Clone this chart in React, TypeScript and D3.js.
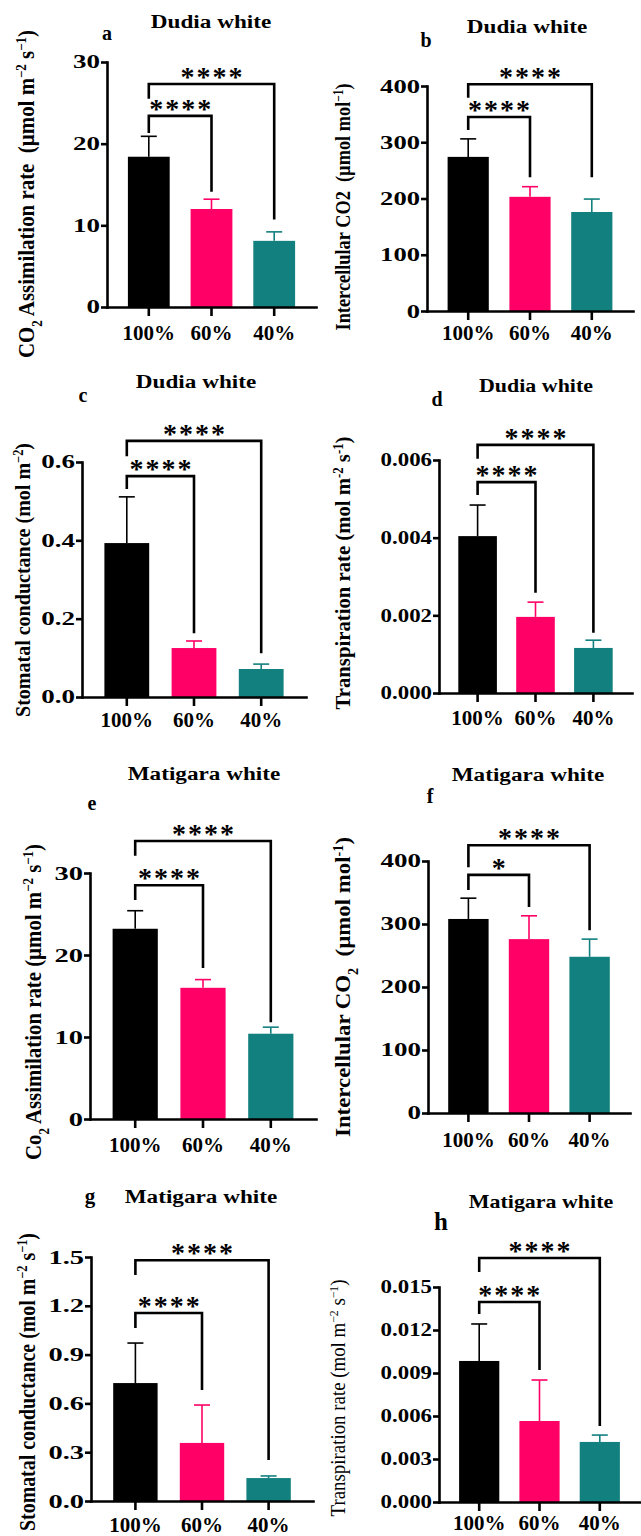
import React, { useEffect, useRef } from 'react';
import * as d3 from 'd3';

const categories = ['100%', '60%', '40%'];
const barColors = ['#000000', '#ff0066', '#12807e'];

// a - Dudia white, CO2 assimilation
const aMeans = [18.4, 12.0, 8.1];
const aErrors = [2.5, 1.2, 1.1];
const aTicks = [0, 10, 20, 30];
const aBrackets = [
  { from: 0, to: 1, level: 23.4, leftEnd: 21.3, rightEnd: 14.1, label: '****' },
  { from: 0, to: 2, level: 27.3, leftEnd: 25.5, rightEnd: 10.7, label: '****' },
];

// b - Dudia white, intercellular CO2
const bMeans = [274, 203, 176];
const bErrors = [32, 18, 23];
const bTicks = [0, 100, 200, 300, 400];
const bBrackets = [
  { from: 0, to: 1, level: 345, leftEnd: 322, rightEnd: 238, label: '****' },
  { from: 0, to: 2, level: 403, leftEnd: 379, rightEnd: 238, label: '****' },
];

// c - Dudia white, stomatal conductance
const cMeans = [0.393, 0.125, 0.0715];
const cErrors = [0.118, 0.018, 0.0125];
const cTicks = [0, 0.2, 0.4, 0.6];
const cBrackets = [
  { from: 0, to: 1, level: 0.564, leftEnd: 0.531, rightEnd: 0.163, label: '****' },
  { from: 0, to: 2, level: 0.654, leftEnd: 0.615, rightEnd: 0.112, label: '****' },
];

// d - Dudia white, transpiration
const dMeans = [0.00404, 0.00196, 0.00116];
const dErrors = [0.0008, 0.00038, 0.0002];
const dTicks = [0, 0.002, 0.004, 0.006];
const dBrackets = [
  { from: 0, to: 1, level: 0.00543, leftEnd: 0.0051, rightEnd: 0.00258, label: '****' },
  { from: 0, to: 2, level: 0.00639, leftEnd: 0.00603, rightEnd: 0.00155, label: '****' },
];

// e - Matigara white, CO2 assimilation
const eMeans = [23.2, 16.0, 10.4];
const eErrors = [2.2, 1.0, 0.8];
const eTicks = [0, 10, 20, 30];
const eBrackets = [
  { from: 0, to: 1, level: 28.5, leftEnd: 26.7, rightEnd: 18.4, label: '****' },
  { from: 0, to: 2, level: 33.9, leftEnd: 32.1, rightEnd: 11.8, label: '****' },
];

// f - Matigara white, intercellular CO2
const fMeans = [308, 276, 248];
const fErrors = [33, 37, 28];
const fTicks = [0, 100, 200, 300, 400];
const fBrackets = [
  { from: 0, to: 1, level: 378, leftEnd: 354, rightEnd: 327, label: '*' },
  { from: 0, to: 2, level: 425, leftEnd: 390, rightEnd: 290, label: '****' },
];

// g - Matigara white, stomatal conductance
const gMeans = [0.725, 0.357, 0.141];
const gErrors = [0.246, 0.233, 0.013];
const gTicks = [0, 0.3, 0.6, 0.9, 1.2, 1.5];
const gBrackets = [
  { from: 0, to: 1, level: 1.156, leftEnd: 1.063, rightEnd: 0.682, label: '****' },
  { from: 0, to: 2, level: 1.48, leftEnd: 1.389, rightEnd: 0.252, label: '****' },
];

// h - Matigara white, transpiration
const hMeans = [0.00984, 0.00565, 0.00419];
const hErrors = [0.00258, 0.00286, 0.00048];
const hTicks = [0, 0.003, 0.006, 0.009, 0.012, 0.015];
const hBrackets = [
  { from: 0, to: 1, level: 0.01395, leftEnd: 0.01312, rightEnd: 0.00921, label: '****' },
  { from: 0, to: 2, level: 0.01702, leftEnd: 0.01605, rightEnd: 0.0053, label: '****' },
];

const FONT = '"Liberation Serif", "Times New Roman", Times, serif';

const panels = [
  {
    letter: 'a', title: 'Dudia white', means: aMeans, errors: aErrors, ticks: aTicks, fmt: 'd', brackets: aBrackets,
    label: [['CO', ''], ['2', 'sub'], [' Assimilation rate  (µmol m', ''], ['−2', 'sup'], [' s', ''], ['−1', 'sup'], [')', '']],
    L: { axisX: 107, axisEnd: 316, yTop: 62, yZero: 307, titleX: 211, titleY: 28, letterX: 107, letterY: 40, letterSize: 20,
      catY: 340, labelX: 26, labelY: 194, labelLen: 328, labelSize: 23, labelWeight: 'bold', tickFont: 18, tickSx: 1.5, titleSize: 19 },
  },
  {
    letter: 'b', title: 'Dudia white', means: bMeans, errors: bErrors, ticks: bTicks, fmt: 'd', brackets: bBrackets,
    label: [['Intercellular CO2  (µmol mol', ''], ['−1', 'sup'], [')', '']],
    L: { axisX: 427, axisEnd: 633, yTop: 86, yZero: 311, titleX: 527, titleY: 33, letterX: 426, letterY: 47, letterSize: 20,
      catY: 340, labelX: 342, labelY: 207, labelLen: 247, labelSize: 22, labelWeight: 'bold', tickFont: 19, tickSx: 1.4, titleSize: 19 },
  },
  {
    letter: 'c', title: 'Dudia white', means: cMeans, errors: cErrors, ticks: cTicks, fmt: '.1f', brackets: cBrackets,
    label: [['Stomatal conductance (mol m', ''], ['−2', 'sup'], [')', '']],
    L: { axisX: 82, axisEnd: 306, yTop: 462, yZero: 697, titleX: 196, titleY: 388, letterX: 83, letterY: 402, letterSize: 20,
      catY: 727, labelX: 22, labelY: 580, labelLen: 274, labelSize: 22, labelWeight: 'bold', tickFont: 18, tickSx: 1.5, titleSize: 19 },
  },
  {
    letter: 'd', title: 'Dudia white', means: dMeans, errors: dErrors, ticks: dTicks, fmt: '.3f', brackets: dBrackets,
    label: [['Transpiration rate (mol m', ''], ['-2', 'sup'], [' s', ''], ['-1', 'sup'], [')', '']],
    L: { axisX: 439, axisEnd: 632, yTop: 460, yZero: 693, titleX: 536, titleY: 392, letterX: 437, letterY: 406, letterSize: 20,
      catY: 725, labelX: 342, labelY: 573, labelLen: 273, labelSize: 22, labelWeight: 'bold', tickFont: 18, tickSx: 1.27, titleSize: 18 },
  },
  {
    letter: 'e', title: 'Matigara white', means: eMeans, errors: eErrors, ticks: eTicks, fmt: 'd', brackets: eBrackets,
    label: [['Co', ''], ['2', 'sub'], [' Assimilation rate (µmol m', ''], ['−2', 'sup'], [' s', ''], ['−1', 'sup'], [')', '']],
    L: { axisX: 90, axisEnd: 316, yTop: 873, yZero: 1119, titleX: 204, titleY: 780, letterX: 92, letterY: 810, letterSize: 20,
      catY: 1152, labelX: 33, labelY: 1002, labelLen: 316, labelSize: 24, labelWeight: 'bold', tickFont: 19, tickSx: 1.5, titleSize: 19 },
  },
  {
    letter: 'f', title: 'Matigara white', means: fMeans, errors: fErrors, ticks: fTicks, fmt: 'd', brackets: fBrackets,
    label: [['Intercellular CO', ''], ['2', 'sub'], ['  (µmol mol', ''], ['-1', 'sup'], [')', '']],
    L: { axisX: 428, axisEnd: 630, yTop: 861, yZero: 1113, titleX: 528, titleY: 781, letterX: 430, letterY: 803, letterSize: 20,
      catY: 1147, labelX: 342, labelY: 987, labelLen: 300, labelSize: 22, labelWeight: 'bold', tickFont: 18, tickSx: 1.5, titleSize: 19 },
  },
  {
    letter: 'g', title: 'Matigara white', means: gMeans, errors: gErrors, ticks: gTicks, fmt: '.1f', brackets: gBrackets,
    label: [['Stomatal conductance (mol m', ''], ['−2', 'sup'], [' s', ''], ['−1', 'sup'], [')', '']],
    L: { axisX: 91, axisEnd: 313, yTop: 1257, yZero: 1501, titleX: 201, titleY: 1203, letterX: 90, letterY: 1203, letterSize: 21,
      catY: 1532, labelX: 27, labelY: 1382, labelLen: 298, labelSize: 23, labelWeight: 'bold', tickFont: 19, tickSx: 1.5, titleSize: 19 },
  },
  {
    letter: 'h', title: 'Matigara white', means: hMeans, errors: hErrors, ticks: hTicks, fmt: '.3f', brackets: hBrackets,
    label: [['Transpiration rate (mol m', ''], ['−2', 'sup'], [' s', ''], ['−1', 'sup'], [')', '']],
    L: { axisX: 439, axisEnd: 640, yTop: 1287, yZero: 1502, titleX: 541, titleY: 1208, letterX: 441, letterY: 1230, letterSize: 25,
      catY: 1530, labelX: 338, labelY: 1398, labelLen: 237, labelSize: 20, labelWeight: 'normal', tickFont: 18, tickSx: 1.27, titleSize: 18 },
  },
];

function drawPanel(svg, p) {
  const L = p.L;
  const g = svg.append('g');

  const x = d3.scaleBand().domain(categories).range([L.axisX, L.axisEnd]).paddingInner(1 / 3).paddingOuter(1 / 3);
  const y = d3.scaleLinear().domain([0, p.ticks[p.ticks.length - 1]]).range([L.yZero, L.yTop]);
  const bw = x.bandwidth();
  const mid = (c) => x(c) + bw / 2;

  const rows = categories.map((c, i) => ({ cat: c, mean: p.means[i], err: p.errors[i], color: barColors[i] }));

  // bars
  g.selectAll('rect.bar').data(rows).join('rect')
    .attr('class', 'bar')
    .attr('x', d => x(d.cat))
    .attr('width', bw)
    .attr('y', d => y(d.mean))
    .attr('height', d => L.yZero - y(d.mean))
    .attr('fill', d => d.color);

  // error bars (upper only)
  g.selectAll('line.err').data(rows).join('line')
    .attr('class', 'err')
    .attr('x1', d => mid(d.cat)).attr('x2', d => mid(d.cat))
    .attr('y1', d => y(d.mean)).attr('y2', d => y(d.mean + d.err))
    .attr('stroke', d => d.color).attr('stroke-width', 1.6);
  g.selectAll('line.cap').data(rows).join('line')
    .attr('class', 'cap')
    .attr('x1', d => mid(d.cat) - 8).attr('x2', d => mid(d.cat) + 8)
    .attr('y1', d => y(d.mean + d.err)).attr('y2', d => y(d.mean + d.err))
    .attr('stroke', d => d.color).attr('stroke-width', 1.6);

  // y axis
  const yAxis = g.append('g')
    .attr('transform', `translate(${L.axisX},0)`)
    .call(d3.axisLeft(y).tickValues(p.ticks).tickFormat(d3.format(p.fmt)).tickSize(6).tickSizeOuter(0).tickPadding(0));
  yAxis.select('.domain').attr('stroke-width', 2.6).attr('stroke-linecap', 'square');
  yAxis.selectAll('.tick line').attr('stroke-width', 2.6);
  yAxis.selectAll('.tick text')
    .attr('x', -7 / L.tickSx)
    .attr('transform', `scale(${L.tickSx},1)`)
    .attr('font-family', FONT).attr('font-weight', 'bold').attr('font-size', L.tickFont).attr('fill', '#000');

  // x axis
  const xAxis = g.append('g')
    .attr('transform', `translate(0,${L.yZero})`)
    .call(d3.axisBottom(x).tickSize(9).tickSizeOuter(0));
  xAxis.select('.domain').attr('stroke-width', 2.6).attr('stroke-linecap', 'square');
  xAxis.selectAll('.tick line').attr('stroke-width', 2.6);
  xAxis.selectAll('.tick text')
    .attr('y', L.catY - L.yZero).attr('dy', 0)
    .attr('font-family', FONT).attr('font-weight', 'bold').attr('font-size', 21).attr('fill', '#000');

  // significance brackets
  p.brackets.forEach(b => {
    const x1 = mid(categories[b.from]);
    const x2 = mid(categories[b.to]);
    g.append('path')
      .attr('d', `M${x1},${y(b.leftEnd)}V${y(b.level)}H${x2}V${y(b.rightEnd)}`)
      .attr('fill', 'none').attr('stroke', '#000').attr('stroke-width', 2.6);
    g.append('text')
      .attr('x', (x1 + x2) / 2 + 1)
      .attr('y', y(b.level) + 2)
      .attr('text-anchor', 'middle')
      .attr('font-family', FONT).attr('font-weight', 'bold').attr('font-size', 28)
      .attr('letter-spacing', 2)
      .text(b.label);
  });

  // title
  g.append('text')
    .attr('transform', `translate(${L.titleX},${L.titleY}) scale(1.22,1)`)
    .attr('text-anchor', 'middle')
    .attr('font-family', FONT).attr('font-weight', 'bold').attr('font-size', L.titleSize)
    .text(p.title);

  // panel letter
  g.append('text')
    .attr('x', L.letterX).attr('y', L.letterY)
    .attr('text-anchor', 'middle')
    .attr('font-family', FONT).attr('font-weight', 'bold').attr('font-size', L.letterSize)
    .text(p.letter);

  // y label
  const t = g.append('text')
    .attr('transform', `translate(${L.labelX},${L.labelY}) rotate(-90)`)
    .attr('y', 0.35 * L.labelSize)
    .attr('text-anchor', 'middle')
    .attr('textLength', L.labelLen)
    .attr('lengthAdjust', 'spacingAndGlyphs')
    .attr('font-family', FONT).attr('font-weight', L.labelWeight).attr('font-size', L.labelSize)
    .style('white-space', 'pre');
  p.label.forEach(([s, k]) => {
    const ts = t.append('tspan').text(s);
    if (k) ts.attr('font-size', L.labelSize * 0.62).attr('baseline-shift', k === 'sup' ? 'super' : 'sub');
  });
}

const App = () => {
  const ref = useRef(null);

  useEffect(() => {
    const svg = d3.select(ref.current);
    svg.selectAll('*').remove();
    svg.append('rect').attr('width', 641).attr('height', 1536).attr('fill', '#fff');
    panels.forEach(p => drawPanel(svg, p));
  }, []);

  return (
    <svg ref={ref} width={641} height={1536}
      style={{ position: 'absolute', left: 0, top: 0, display: 'block' }} />
  );
};

export default App;
